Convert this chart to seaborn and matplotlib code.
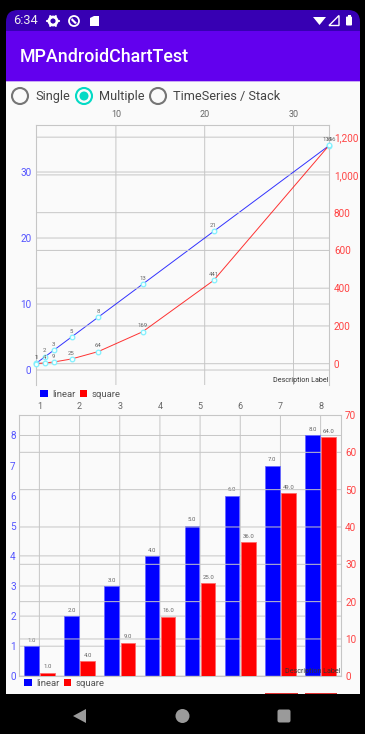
import matplotlib
matplotlib.use("Agg")
import matplotlib.pyplot as plt
from matplotlib.patches import Rectangle, FancyBboxPatch, Circle, Polygon
import numpy as np
import pandas as pd
import seaborn as sns

# ---------- data ----------
line_x = [1, 2, 3, 5, 8, 13, 21, 34]
line_linear = [1, 2, 3, 5, 8, 13, 21, 34]
line_square = [1, 4, 9, 25, 64, 169, 441, 1156]
line_x_ticks = [10, 20, 30]
line_left_ticks = [0, 10, 20, 30]
line_right_ticks = [0, 200, 400, 600, 800, 1000, 1200]
line_right_labels = ["0", "200", "400", "600", "800", "1,000", "1,200"]

bar_x = [1, 2, 3, 4, 5, 6, 7, 8]
bar_linear = [1, 2, 3, 4, 5, 6, 7, 8]
bar_square = [1, 4, 9, 16, 25, 36, 49, 64]
bar_left_ticks = [0, 1, 2, 3, 4, 5, 6, 7, 8]
bar_left_hidden_grid = [5, 6, 7]
bar_right_ticks = [0, 10, 20, 30, 40, 50, 60, 70]

series_names = ["linear", "square"]
radio_labels = ["Single", "Multiple", "TimeSeries / Stack"]
app_title = "MPAndroidChartTest"
clock = "6:34"
description = "Description Label"

# ---------- style ----------
BLUE, RED = "#0000ff", "#ff0000"
LEFT_TXT, RIGHT_TXT, TOP_TXT = "#5555ff", "#ff4444", "#666666"
GRID = "#c6c6c6"
sns.set_theme(style="white")
plt.rcParams["font.family"] = ["Roboto", "DejaVu Sans"]
W, H = 365, 734
PX = 0.72  # 1 px in points at dpi 100
fig = plt.figure(figsize=(W / 100, H / 100), dpi=100, facecolor="black")


def px_axes(l, t, r, b, **kw):
    return fig.add_axes([l / W, 1 - b / H, (r - l) / W, (b - t) / H], **kw)


# ---------- phone chrome ----------
ui = px_axes(0, 0, W, H)
ui.set_xlim(0, W)
ui.set_ylim(H, 0)
ui.axis("off")
ui.add_patch(Rectangle((0, 0), W, H, fc="black", ec="none"))
clip = FancyBboxPatch((6, 10), 354, 720, boxstyle="round,pad=0,rounding_size=12", fc="none", ec="none", transform=ui.transData)
ui.add_patch(clip)
for y0, y1, c in [(10, 31, "#3700b3"), (31, 81, "#6200ee"), (81, 694, "#fafafa")]:
    r = Rectangle((6, y0), 354, y1 - y0, fc=c, ec="none")
    ui.add_patch(r)
    r.set_clip_path(clip)
ui.add_patch(Rectangle((6, 81), 354, 1, fc="#c9a8f5", ec="none"))
ui.text(13, 21, clock, color="#eeeeee", fontsize=12.8 * PX, va="center")
# gear, data-saver and sd-card icons
ui.add_patch(Circle((53, 21), 4, fc="none", ec="white", lw=2))
for a in np.arange(0, 360, 60):
    ui.plot([53 + 4 * np.cos(np.radians(a)), 53 + 5.6 * np.cos(np.radians(a))],
            [21 + 4 * np.sin(np.radians(a)), 21 + 5.6 * np.sin(np.radians(a))], color="white", lw=1.6)
ui.add_patch(Circle((74, 21), 5, fc="none", ec="white", lw=1.3))
ui.add_patch(Polygon([(72, 18), (77, 23), (75, 24), (71, 20)], fc="white", ec="none"))
ui.add_patch(Polygon([(90, 26), (90, 18), (94, 16), (99, 16), (99, 26)], fc="white", ec="none"))
# wifi, signal, battery
ui.add_patch(Polygon([(313, 17), (326, 17), (319.5, 25)], fc="white", ec="none"))
ui.add_patch(Polygon([(329, 25.5), (339, 25.5), (339, 15.5)], fc="none", ec="white", lw=1))
ui.add_patch(FancyBboxPatch((346, 16.5), 6, 9, boxstyle="round,pad=0,rounding_size=1", fc="white", ec="none"))
ui.add_patch(Rectangle((347.5, 15), 3, 2, fc="white", ec="none"))
ui.text(20, 57.5, app_title, color="white", fontsize=17.9 * PX, va="center", fontweight="medium")
for cx, label, tx, on in zip([20, 84, 158], radio_labels, [35, 98.5, 173], [False, True, False]):
    ui.add_patch(Circle((cx, 96), 8, fc="none", ec="#03dac5" if on else "#757575", lw=1.5))
    if on:
        ui.add_patch(Circle((cx, 96), 4.5, fc="#03dac5", ec="none"))
    ui.text(tx, 96.5, label, color="#444444", fontsize=12.7 * PX, va="center")
# cut-off row under the second chart
ui.add_patch(Rectangle((265, 692.6), 33, 1.4, fc="#e03030", ec="none"))
ui.add_patch(Rectangle((305, 692.6), 32, 1.4, fc="#e03030", ec="none"))
# navigation bar
ui.add_patch(Polygon([(73, 716), (86, 709), (86, 723)], fc="#9a9a9a", ec="none"))
ui.add_patch(Circle((182.5, 716), 7, fc="#9a9a9a", ec="none"))
ui.add_patch(FancyBboxPatch((277.5, 709.5), 13, 13, boxstyle="round,pad=0,rounding_size=2", fc="#9a9a9a", ec="none"))


def style_axes(left, right, top_ticks, pad_top, pad_left, pad_right):
    left.set_facecolor("none")
    right.set_facecolor("none")
    for ax in (left, right):
        for s in ax.spines.values():
            s.set_visible(False)
        ax.set_xlabel("")
        ax.set_ylabel("")
    left.spines["left"].set(visible=True, color=GRID, lw=0.8)
    left.spines["top"].set(visible=True, color=GRID, lw=0.8)
    right.spines["right"].set(visible=True, color=GRID, lw=0.8)
    left.xaxis.tick_top()
    left.set_xticks(top_ticks)
    left.set_xticklabels([str(t) for t in top_ticks])
    left.tick_params(axis="x", length=0, pad=pad_top, labelsize=9 * PX, labelcolor=TOP_TXT)
    left.tick_params(axis="y", length=0, pad=pad_left, labelsize=10 * PX, labelcolor=LEFT_TXT)
    right.tick_params(axis="y", length=0, pad=pad_right, labelsize=10 * PX, labelcolor=RIGHT_TXT)
    right.tick_params(axis="x", top=False, labeltop=False, bottom=False, labelbottom=False)


def snap_off(ax):
    for ln in ax.get_xgridlines() + ax.get_ygridlines():
        ln.set_snap(False)


# ---------- line chart ----------
df_line = pd.DataFrame({"x": line_x, "linear": line_linear, "square": line_square})
la = px_axes(36, 124.5, 329, 385)
ra = la.twinx()
for ax, col, c in [(la, "linear", BLUE), (ra, "square", RED)]:
    sns.lineplot(data=df_line, x="x", y=col, ax=ax, color=c, lw=0.7, alpha=0.8, zorder=3)
    sns.scatterplot(data=df_line, x="x", y=col, ax=ax, s=11, facecolor="#f4ffff", edgecolor="#80f0ff",
                    linewidth=0.9, zorder=4, clip_on=False)
    for xv, yv in zip(df_line["x"], df_line[col]):
        ax.annotate(str(yv), (xv, yv), xytext=(0, 2.4), textcoords="offset points", ha="center", va="bottom",
                    fontsize=6 * PX, color="#666666", zorder=5)
la.set_xlim(1, 34)
la.set_ylim(-2.27, 37.2)
ra.set_ylim(-112.8, 1267)
la.set_yticks(line_left_ticks)
ra.set_yticks(line_right_ticks)
ra.set_yticklabels(line_right_labels)
style_axes(la, ra, line_x_ticks, 4.2, 3.3, 3.6)
la.grid(True, color=GRID, lw=0.7)
ra.grid(True, axis="y", color=GRID, lw=0.7)
la.set_axisbelow(True)
ra.set_axisbelow(True)
snap_off(la)
snap_off(ra)
la.text(0.998, 0.005, description, transform=la.transAxes, ha="right", va="bottom", fontsize=7.2 * PX, color="#333333")

# ---------- bar chart ----------
OFFSET, BAR_W = 0.2, 0.36
df_bar = pd.DataFrame({"x": bar_x, "linear": bar_linear, "square": bar_square})
lb = px_axes(19.3, 415, 340.7, 676.3)
rb = lb.twinx()
for ax, col, c, edge, sign in [(lb, "linear", BLUE, "#6a6aff", -1), (rb, "square", RED, "#ff6a6a", 1)]:
    sns.barplot(x=df_bar["x"] + sign * OFFSET, y=df_bar[col], ax=ax, native_scale=True, width=BAR_W, color=c,
                saturation=1, errorbar=None, edgecolor=edge, linewidth=0.6, zorder=3)
    for xv, yv in zip(df_bar["x"], df_bar[col]):
        ax.annotate(f"{yv:.1f}", (xv + sign * OFFSET, yv), xytext=(0, 2.4), textcoords="offset points",
                    ha="center", va="bottom", fontsize=6 * PX, color="#666666", zorder=5)
lb.set_xlim(0.5, 8.5)
lb.set_ylim(0, 8.68)
rb.set_ylim(0, 70)
lb.set_yticks(bar_left_ticks)
rb.set_yticks(bar_right_ticks)
style_axes(lb, rb, bar_x, 3.0, 2.6, 3.2)
lb.grid(True, color=GRID, lw=0.7)
rb.grid(True, axis="y", color=GRID, lw=0.7)
lb.set_axisbelow(True)
rb.set_axisbelow(True)
snap_off(lb)
snap_off(rb)
for t, ln in zip(bar_left_ticks, lb.get_ygridlines()):
    if t in bar_left_hidden_grid:
        ln.set_visible(False)
lb.spines["bottom"].set(visible=True, color=GRID, lw=0.8)
rb.text(0.998, 0.005, description, transform=rb.transAxes, ha="right", va="bottom", fontsize=7.2 * PX,
        color="#333333", zorder=6)

# ---------- legends ----------
handles = [Rectangle((0, 0), 1, 1, fc=BLUE, ec="none"), Rectangle((0, 0), 1, 1, fc=RED, ec="none")]
for lx, ly in [(40, 398.5), (24, 688)]:
    fig.legend(handles, series_names, loc="lower left", bbox_to_anchor=(lx / W, 1 - ly / H), ncol=2, frameon=False,
               fontsize=9.5 * PX, handlelength=0.8, handleheight=0.8, handletextpad=0.5, columnspacing=0.4,
               borderpad=0, borderaxespad=0, labelcolor="#555555")

fig.savefig("out.png", dpi=100, facecolor="black")
